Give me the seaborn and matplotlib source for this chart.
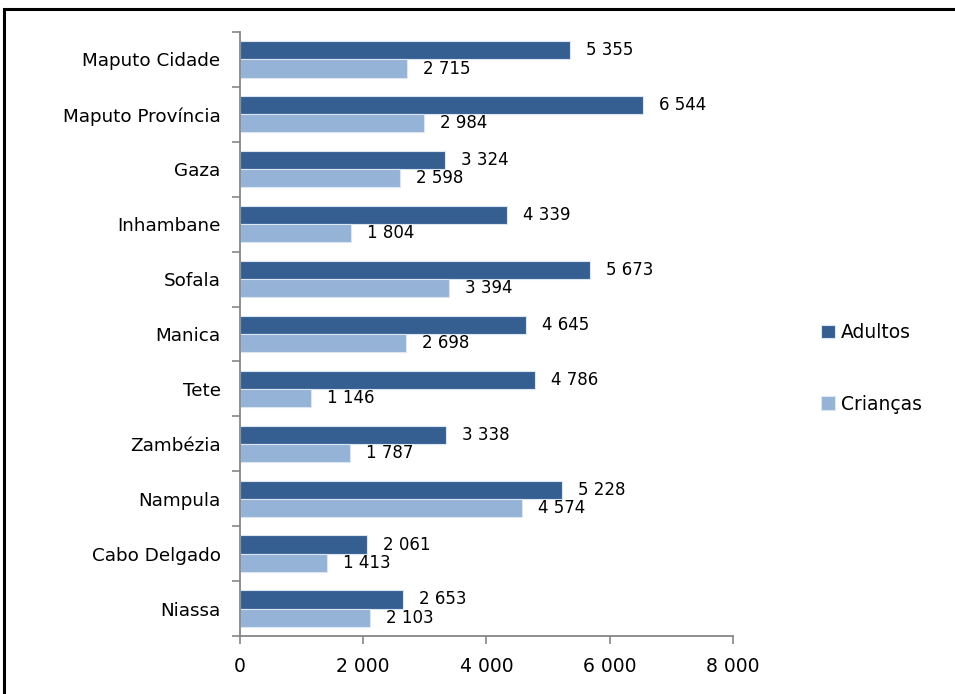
import pandas as pd
import seaborn as sns
import matplotlib.pyplot as plt
from matplotlib.patches import Rectangle
from matplotlib.ticker import FuncFormatter, FixedLocator

# Data (top to bottom)
provinces = ['Maputo Cidade', 'Maputo Província', 'Gaza', 'Inhambane', 'Sofala',
             'Manica', 'Tete', 'Zambézia', 'Nampula', 'Cabo Delgado', 'Niassa']
adultos = [5355, 6544, 3324, 4339, 5673, 4645, 4786, 3338, 5228, 2061, 2653]
criancas = [2715, 2984, 2598, 1804, 3394, 2698, 1146, 1787, 4574, 1413, 2103]
series = ['Adultos', 'Crianças']
colors = ['#355F91', '#95B3D7']

df = pd.DataFrame({
    'provincia': provinces * 2,
    'valor': adultos + criancas,
    'grupo': [series[0]] * len(provinces) + [series[1]] * len(provinces),
})


def fmt_space(v, pos=None):
    return f'{int(round(v)):,}'.replace(',', ' ')


sns.set_theme(style='white')
plt.rcParams['font.family'] = ['DejaVu Sans']

fig = plt.figure(figsize=(9.55, 6.94), dpi=100)
ax = fig.add_axes([0.2513, 0.0836, 0.7675 - 0.2513, 0.9539 - 0.0836])

sns.barplot(data=df, y='provincia', x='valor', hue='grupo', order=provinces,
            hue_order=series, palette=colors, saturation=1, width=0.66, orient='h',
            edgecolor='#DCE6F2', linewidth=0.8, ax=ax)

# value labels
for cont in ax.containers:
    ax.bar_label(cont, labels=[fmt_space(b.get_width()) for b in cont],
                 padding=11.5, fontsize=12, color='black')

ax.set_xlim(0, 8000)
ax.set_ylim(len(provinces) - 0.5, -0.5)
ax.set_xticks([0, 2000, 4000, 6000, 8000])
ax.xaxis.set_major_formatter(FuncFormatter(fmt_space))
ax.set_xlabel('')
ax.set_ylabel('')

# category boundaries as ticks, labels centered
ax.yaxis.set_major_locator(FixedLocator([i - 0.5 for i in range(len(provinces) + 1)]))
ax.yaxis.set_minor_locator(FixedLocator(list(range(len(provinces)))))
ax.set_yticklabels([''] * (len(provinces) + 1))
ax.set_yticklabels(provinces, minor=True)
ax.tick_params(axis='y', which='major', direction='out', length=6, width=1.2,
               color='#868686', left=True)
ax.tick_params(axis='y', which='minor', length=0, pad=14, labelsize=13.2, labelcolor='black')
ax.tick_params(axis='x', direction='out', length=6, width=1.2, color='#868686',
               bottom=True, pad=9, labelsize=13.5, labelcolor='black')

for s in ['top', 'right']:
    ax.spines[s].set_visible(False)
for s in ['left', 'bottom']:
    ax.spines[s].set_color('#868686')
    ax.spines[s].set_linewidth(1.3)

ax.legend(handles=ax.legend_.legend_handles if ax.legend_ else None,
          labels=series, loc='center left', bbox_to_anchor=(1.145, 0.443),
          frameon=False, fontsize=13.5, handlelength=0.75, handleheight=0.75,
          handletextpad=0.3, labelspacing=2.8, labelcolor='black')

# outer frame
fig.patches.append(Rectangle((4 / 955, -0.02), 1.1, 1 - 9 / 694 + 0.02,
                             transform=fig.transFigure, fill=False,
                             edgecolor='black', linewidth=2.2))

fig.savefig('out.png', dpi=100)
